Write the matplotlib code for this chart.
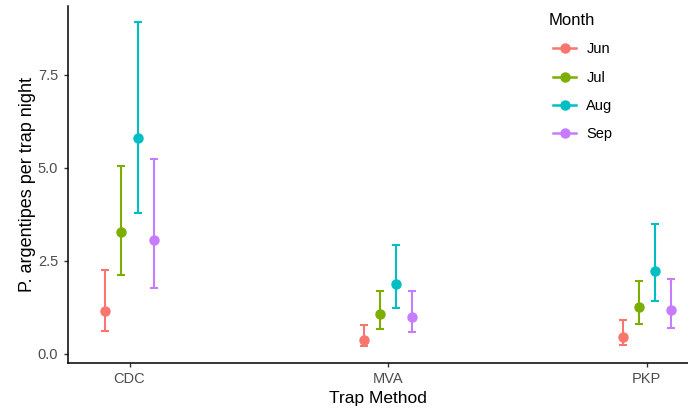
import matplotlib.pyplot as plt
from matplotlib.lines import Line2D
import numpy as np

plt.rcParams['font.family'] = ['Liberation Sans', 'DejaVu Sans']

# data
methods = ['CDC', 'MVA', 'PKP']
months = ['Jun', 'Jul', 'Aug', 'Sep']
colors = ['#F8766D', '#7CAE00', '#00BFC4', '#C77CFF']

mean_jun = [1.16, 0.37, 0.45]
mean_jul = [3.27, 1.06, 1.25]
mean_aug = [5.80, 1.88, 2.22]
mean_sep = [3.05, 0.99, 1.18]

lo_jun = [0.60, 0.20, 0.23]
lo_jul = [2.12, 0.67, 0.81]
lo_aug = [3.78, 1.22, 1.43]
lo_sep = [1.78, 0.59, 0.70]

hi_jun = [2.25, 0.77, 0.90]
hi_jul = [5.06, 1.69, 1.97]
hi_aug = [8.91, 2.92, 3.49]
hi_sep = [5.23, 1.70, 2.00]

means = [mean_jun, mean_jul, mean_aug, mean_sep]
lows = [lo_jun, lo_jul, lo_aug, lo_sep]
highs = [hi_jun, hi_jul, hi_aug, hi_sep]

fig = plt.figure(figsize=(6.88, 4.08), dpi=100)
ax = fig.add_axes([0.0988, 0.111, 0.9012, 0.874])

x = np.arange(1, len(methods) + 1)
offsets = [-0.093, -0.031, 0.031, 0.093]

for i, m in enumerate(months):
    mu = np.array(means[i])
    err = [mu - np.array(lows[i]), np.array(highs[i]) - mu]
    ax.errorbar(x + offsets[i], mu, yerr=err, fmt='o', color=colors[i],
                ecolor=colors[i], elinewidth=1.5, capsize=3, capthick=1.5,
                markersize=6.5)

ax.set_xlim(0.762, 3.16)
ax.set_ylim(-0.24, 9.35)
ax.set_xticks(x)
ax.set_xticklabels(methods)
ax.set_yticks([0, 2.5, 5, 7.5])
ax.set_yticklabels(['0.0', '2.5', '5.0', '7.5'])
ax.tick_params(colors='#333333', labelcolor='#4D4D4D', labelsize=10.5,
               length=3, width=1, pad=4)
for s in ['top', 'right']:
    ax.spines[s].set_visible(False)
for s in ['left', 'bottom']:
    ax.spines[s].set_linewidth(1.1)
    ax.spines[s].set_color('black')

ax.set_xlabel('Trap Method', fontsize=12.5, labelpad=3)
ax.set_ylabel('P. argentipes per trap night', fontsize=13, labelpad=1)

handles = [Line2D([0], [0], color=c, marker='o', markersize=6.5, linewidth=1.8)
           for c in colors]
leg = ax.legend(handles, months, title='Month', loc='upper left',
                bbox_to_anchor=(0.768, 1.005), frameon=False, fontsize=10.5,
                title_fontsize=12, handlelength=1.6, labelspacing=0.98,
                handletextpad=0.7, borderaxespad=0.2)
leg._legend_box.align = 'left'
leg.get_title().set_position((-4, 0))

fig.savefig('out.png', dpi=100)
